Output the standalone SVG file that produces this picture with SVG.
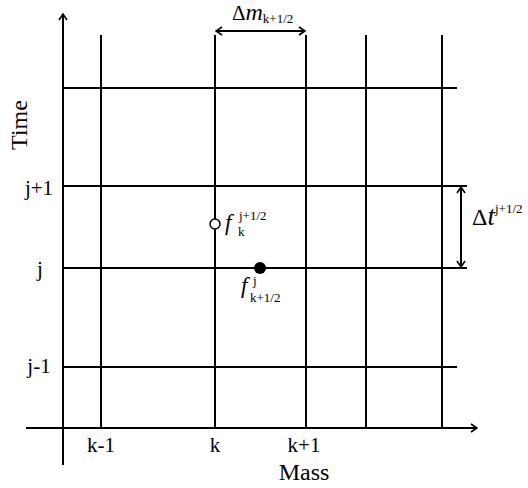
<svg xmlns="http://www.w3.org/2000/svg" width="528" height="488" viewBox="0 0 528 488" font-family="'Liberation Serif', 'DejaVu Serif', serif">
<style>
.ln{stroke:#000;stroke-width:2;fill:none}
text{font-family:"Liberation Serif","DejaVu Serif",serif;fill:#000}
.lab{font-size:21px}
.it{font-style:italic}
.sm{font-size:13px}
</style>
<defs>
<marker id="ah" viewBox="0 0 10 10" refX="9" refY="5" markerWidth="10" markerHeight="10" markerUnits="userSpaceOnUse" orient="auto-start-reverse">
<path d="M3,1 L9,5 L3,9" fill="none" stroke="#000" stroke-width="1.6"/>
</marker>
</defs>
<rect width="528" height="488" fill="#fff"/>
<g id="connectors">
<line class="ln" x1="63" y1="465" x2="63" y2="14" marker-end="url(#ah)"/>
<line class="ln" x1="26" y1="428" x2="477" y2="428" marker-end="url(#ah)"/>
<line class="ln" x1="101" y1="35" x2="101" y2="428"/>
<line class="ln" x1="215" y1="35" x2="215" y2="428"/>
<line class="ln" x1="306" y1="35" x2="306" y2="428"/>
<line class="ln" x1="366" y1="35" x2="366" y2="428"/>
<line class="ln" x1="442" y1="35" x2="442" y2="428"/>
<line class="ln" x1="63" y1="88" x2="457" y2="88"/>
<line class="ln" x1="63" y1="186" x2="467" y2="186"/>
<line class="ln" x1="63" y1="268" x2="467" y2="268"/>
<line class="ln" x1="63" y1="367" x2="457" y2="367"/>
<line class="ln" x1="216" y1="31" x2="305" y2="31" marker-start="url(#ah)" marker-end="url(#ah)"/>
<line class="ln" x1="461" y1="187" x2="461" y2="267" marker-start="url(#ah)" marker-end="url(#ah)"/>
</g>
<g id="axis-labels">
<text font-size="24" transform="translate(27,125) rotate(-90)" text-anchor="middle">Time</text>
<text font-size="24" x="304" y="480" text-anchor="middle">Mass</text>
<text class="lab" x="39" y="195" text-anchor="middle">j+1</text>
<text class="lab" x="40" y="276" text-anchor="middle">j</text>
<text class="lab" x="39" y="373" text-anchor="middle">j-1</text>
<text class="lab" x="101" y="452" text-anchor="middle">k-1</text>
<text class="lab" x="215" y="452" text-anchor="middle">k</text>
<text class="lab" x="304" y="452" text-anchor="middle">k+1</text>
</g>
<g id="delta-m">
<text x="232" y="20" font-size="21">Δ<tspan class="it" font-size="24">m</tspan><tspan class="sm" dy="3">k+1/2</tspan></text>
</g>
<g id="delta-t">
<text x="472" y="225" font-size="24">Δ<tspan class="it" font-size="27">t</tspan><tspan class="sm" dy="-12">j+1/2</tspan></text>
</g>
<g id="node-f-k">
<circle cx="215" cy="224" r="5" fill="#fff" stroke="#000" stroke-width="1.5"/>
<text class="it" x="225" y="230" font-size="23">f</text>
<text class="sm" x="239" y="220">j+1/2</text>
<text class="sm" x="238" y="236">k</text>
</g>
<g id="node-f-k12">
<circle cx="260" cy="268" r="6" fill="#000"/>
<text class="it" x="241" y="293" font-size="23">f</text>
<text class="sm" x="253" y="285">j</text>
<text class="sm" x="250" y="302">k+1/2</text>
</g>
</svg>
